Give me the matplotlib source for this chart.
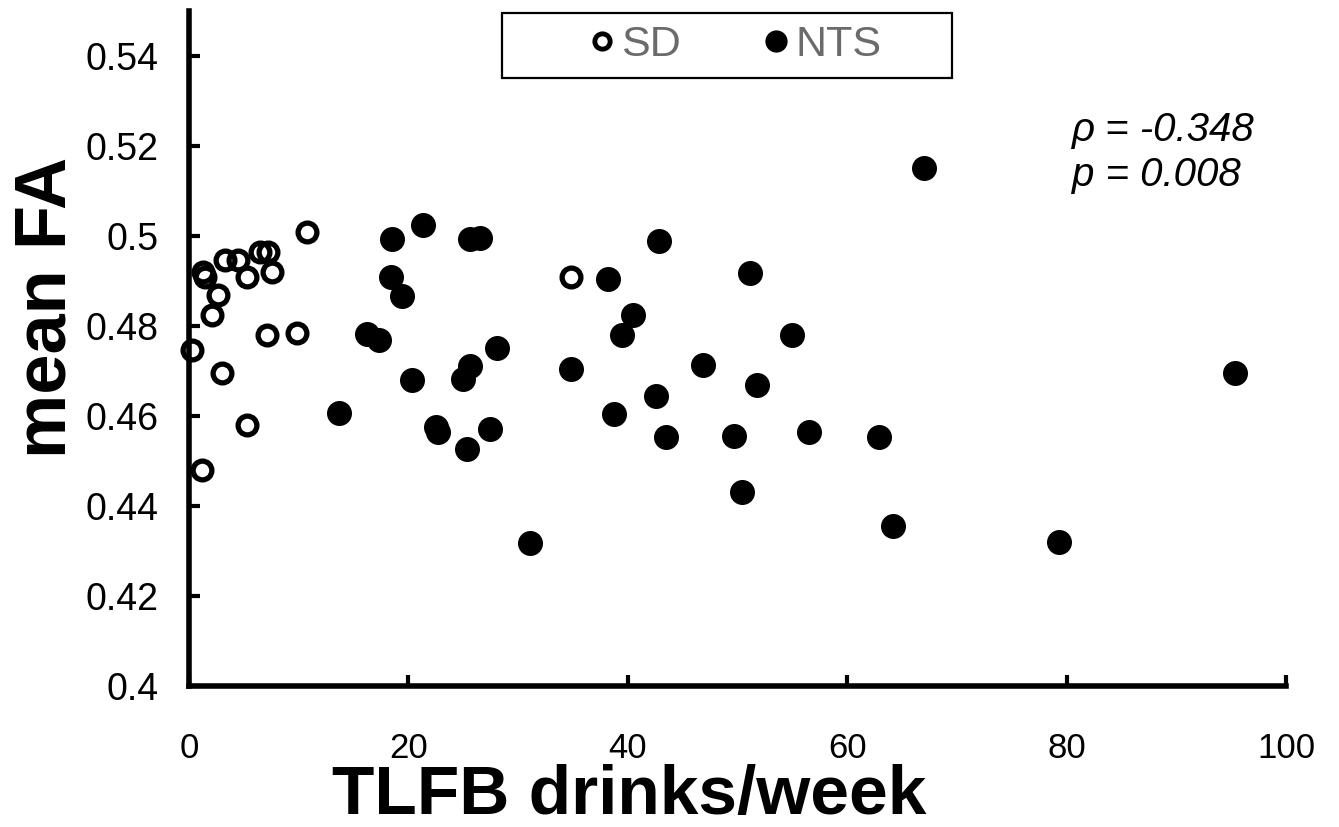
import matplotlib
matplotlib.use("Agg")
import matplotlib.pyplot as plt
from matplotlib.lines import Line2D
from matplotlib.patches import Rectangle
from matplotlib import font_manager as fm

# ---- data ----
sd_x = [10.73, 1.28, 1.46, 2.67, 2.07, 3.28, 4.49, 5.26, 6.47, 7.23, 7.54,
        7.08, 9.82, 0.25, 2.98, 5.26, 1.16, 34.82]
sd_y = [0.5010, 0.4920, 0.4909, 0.4869, 0.4824, 0.4947, 0.4947, 0.4910, 0.4965,
        0.4965, 0.4921, 0.4780, 0.4784, 0.4747, 0.4695, 0.4580, 0.4480, 0.4908]

nts_x = [13.67, 16.20, 17.35, 18.48, 18.41, 19.40, 20.31, 21.36, 22.52, 22.70,
         25.00, 25.37, 25.62, 25.62, 26.53, 27.44, 28.05, 31.08, 34.80, 38.22,
         38.74, 39.50, 40.50, 42.54, 42.87, 43.47, 46.83, 49.68, 50.38, 51.13,
         51.75, 54.99, 56.54, 62.93, 64.20, 67.03, 79.31, 95.35]
nts_y = [0.4606, 0.4782, 0.4769, 0.4993, 0.4910, 0.4867, 0.4679, 0.5024, 0.4576,
         0.4564, 0.4682, 0.4526, 0.4711, 0.4993, 0.4995, 0.4572, 0.4752, 0.4318,
         0.4704, 0.4904, 0.4604, 0.4780, 0.4824, 0.4644, 0.4989, 0.4553, 0.4714,
         0.4556, 0.4431, 0.4918, 0.4670, 0.4780, 0.4564, 0.4554, 0.4356, 0.5152,
         0.4320, 0.4696]

x_ticks = [0, 20, 40, 60, 80, 100]
y_ticks = [0.40, 0.42, 0.44, 0.46, 0.48, 0.50, 0.52, 0.54]
y_tick_labels = ["0.4", "0.42", "0.44", "0.46", "0.48", "0.5", "0.52", "0.54"]
legend_labels = ["SD", "NTS"]
stat_lines = ["\u03c1 = -0.348", "p = 0.008"]
x_label = "TLFB drinks/week"
y_label = "mean FA"

# ---- fonts ----
names = {f.name for f in fm.fontManager.ttflist}
base = "Liberation Sans" if "Liberation Sans" in names else "DejaVu Sans"
narrow = "Liberation Sans Narrow" if "Liberation Sans Narrow" in names else base
plt.rcParams["font.family"] = [base, "DejaVu Sans"]

W, H = 1339, 827
fig = plt.figure(figsize=(W / 100, H / 100), dpi=100)
ax = fig.add_axes([189 / W, 1 - 686 / H, (1286 - 189) / W, (686 - 11) / H])

ax.plot(nts_x, nts_y, linestyle="none", marker="o", ms=18, mfc="black",
        mec="black", mew=0, clip_on=False, zorder=3)
ax.plot(sd_x, sd_y, linestyle="none", marker="o", ms=13.5, mfc="none",
        mec="black", mew=3.8, clip_on=False, zorder=4)

ax.set_xlim(0, 100)
ax.set_ylim(0.40, 0.55)
ax.set_xticks(x_ticks)
ax.set_yticks(y_ticks)
ax.set_yticklabels(y_tick_labels, fontsize=27)
ax.set_xticklabels([str(v) for v in x_ticks], fontsize=25,
                   family=[narrow, base])

for s in ["top", "right"]:
    ax.spines[s].set_visible(False)
for s in ["left", "bottom"]:
    ax.spines[s].set_linewidth(4)
    ax.spines[s].set_capstyle("projecting")

ax.tick_params(axis="both", direction="in", length=8, width=3, color="black")
ax.tick_params(axis="y", pad=22)
ax.tick_params(axis="x", pad=33)

ax.set_xlabel(x_label, fontsize=50, fontweight="bold")
ax.xaxis.label.set_va("baseline")
ax.xaxis.set_label_coords(0.401, -0.1896)
ax.set_ylabel(y_label, fontsize=52, fontweight="bold")
ax.yaxis.set_label_coords(-0.099, 0.561)

# correlation statistics
ax.text(0.805, 0.807, stat_lines[0], transform=ax.transAxes, fontsize=29,
        style="italic", ha="left", va="baseline")
ax.text(0.805, 0.741, stat_lines[1], transform=ax.transAxes, fontsize=29,
        style="italic", ha="left", va="baseline")

# legend
handles = [
    Line2D([], [], linestyle="none", marker="o", ms=11, mfc="none",
           mec="black", mew=3.5),
    Line2D([], [], linestyle="none", marker="o", ms=16, mfc="black",
           mec="black", mew=0),
]
leg = fig.legend(handles, legend_labels, loc="center",
                 bbox_to_anchor=(735 / W, 1 - 45.5 / H), ncol=2,
                 frameon=False, fontsize=31, handlelength=0.6,
                 handletextpad=0.15, columnspacing=1.9, borderpad=0)
for t in leg.get_texts():
    t.set_color("#6b6b6b")
fig.patches.append(Rectangle((502 / W, 1 - 78 / H), 450 / W, 65 / H,
                             transform=fig.transFigure, fill=False,
                             edgecolor="black", linewidth=1.6))

fig.savefig("out.png", dpi=100)
